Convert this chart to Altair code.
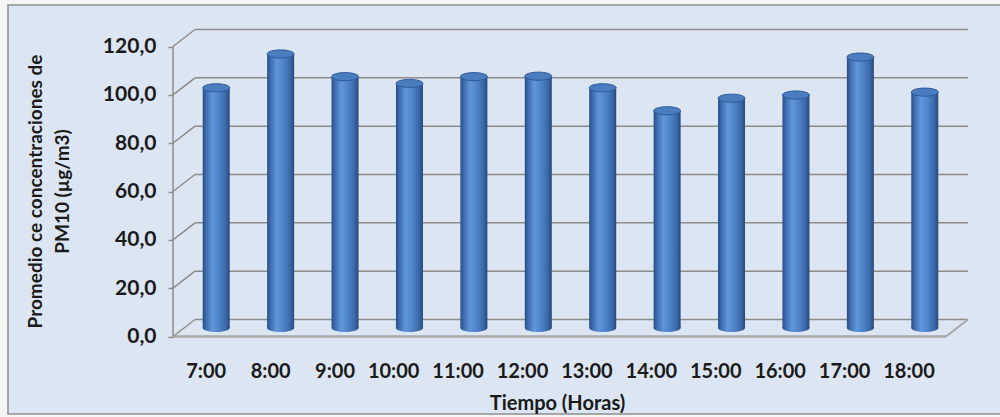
import altair as alt
import pandas as pd

# Hourly mean PM10 concentration
horas = ["7:00", "8:00", "9:00", "10:00", "11:00", "12:00",
         "13:00", "14:00", "15:00", "16:00", "17:00", "18:00"]
pm10 = [99.4, 113.4, 104.0, 101.2, 104.0, 104.2,
        99.4, 89.9, 95.1, 96.4, 112.1, 97.6]
y_ticks = [0, 20, 40, 60, 80, 100, 120]

W, H = 773, 290          # mid-depth plane of the 3D box
DX, DY = 11, 8.5         # half of the depth offset (x right, y up)
BAR_W = 27
FONT = "Lato"
GRID = "#8c8c8c"
TEXT = "#1a1a1a"

bars_df = pd.DataFrame({"hora": horas, "pm10": pm10})
grid_df = pd.DataFrame({"v": y_ticks})
one = pd.DataFrame({"k": [0]})

x_scale = alt.Scale(domain=horas, paddingInner=0, paddingOuter=0)
y_scale = alt.Scale(domain=[0, 120], nice=False, zero=True)

body = alt.Gradient(
    gradient="linear", x1=0, x2=1, y1=0, y2=0,
    stops=[
        alt.GradientStop(color="#284c82", offset=0),
        alt.GradientStop(color="#3c6cae", offset=0.12),
        alt.GradientStop(color="#6296da", offset=0.36),
        alt.GradientStop(color="#4d82c8", offset=0.62),
        alt.GradientStop(color="#3a67a6", offset=0.86),
        alt.GradientStop(color="#26487c", offset=1),
    ],
)
ELLIPSE = "M -1 0 A 1 0.3 0 1 1 1 0 A 1 0.3 0 1 1 -1 0 Z"

# chart frame
frame = alt.Chart(one).mark_rect(
    fill="#dce6f2", stroke="#8f8f8f", strokeWidth=1.5
).encode(
    x=alt.value(-176), x2=alt.value(840),
    y=alt.value(-33), y2=alt.value(376),
)

# back wall gridlines
back_grid = alt.Chart(grid_df).mark_rule(
    color=GRID, strokeWidth=1.5, xOffset=DX, x2Offset=DX, yOffset=-DY
).encode(
    x=alt.value(0), x2=alt.value(W),
    y=alt.Y("v:Q", scale=y_scale, axis=alt.Axis(
        title=["Promedio ce concentraciones de", "PM10 (µg/m3)"],
        values=y_ticks, offset=DX, domain=False, zindex=1,
        ticks=True, tickSize=5, tickColor=GRID, tickWidth=1.5,
        tickOffset=DY,
        labelExpr="replace(format(datum.value, '.1f'), '.', ',')",
        labelFont=FONT, labelFontSize=21, labelFontWeight="bold",
        labelColor=TEXT, labelPadding=12,
        titleFont=FONT, titleFontSize=19, titleFontWeight="bold",
        titleColor=TEXT, titleLineHeight=27, titleBaseline="middle",
        titleAlign="center", titleX=-138, titleY=153,
        grid=False,
    )),
)

# side wall connectors from the front axis to the back wall
side = alt.Chart(grid_df).mark_rule(
    color=GRID, strokeWidth=1.5, yOffset=DY, y2Offset=-DY
).encode(
    x=alt.value(-DX), x2=alt.value(DX),
    y=alt.Y("v:Q", scale=y_scale), y2="v:Q",
)

# front vertical axis line
front_axis = alt.Chart(one).mark_rule(
    color=GRID, strokeWidth=1.5, yOffset=DY, y2Offset=DY
).encode(
    x=alt.value(-DX), y=alt.datum(120, scale=y_scale), y2=alt.datum(0),
)

# floor: front edge and right edge
floor_front = alt.Chart(one).mark_rule(
    color="#a8a8a8", strokeWidth=2.5, yOffset=DY
).encode(
    x=alt.value(-DX), x2=alt.value(W - DX), y=alt.datum(0, scale=y_scale),
)
floor_side = alt.Chart(one).mark_rule(
    color="#a8a8a8", strokeWidth=2, yOffset=DY, y2Offset=-DY
).encode(
    x=alt.value(W - DX), x2=alt.value(W + DX),
    y=alt.datum(0, scale=y_scale), y2=alt.datum(0),
)

x_enc = alt.X("hora:N", sort=horas, scale=x_scale, axis=alt.Axis(
    title="Tiempo (Horas)", domain=False, ticks=False, labelAngle=0,
    labelPadding=43, labelOffset=10, zindex=1,
    labelFont=FONT, labelFontSize=20, labelFontWeight="bold",
    labelColor=TEXT,
    titleFont=FONT, titleFontSize=20, titleFontWeight="bold",
    titleColor=TEXT, titleX=373, titleY=75, titleBaseline="middle",
))

# cylinder bottoms, bodies and top caps
bottoms = alt.Chart(bars_df).mark_point(
    shape=ELLIPSE, size=BAR_W ** 2, filled=True, fill=body, opacity=1,
    strokeWidth=0,
).encode(x=alt.X("hora:N", sort=horas, scale=x_scale),
         y=alt.datum(0, scale=y_scale))

bodies = alt.Chart(bars_df).mark_bar(width=BAR_W, fill=body).encode(
    x=x_enc,
    y=alt.Y("pm10:Q", scale=y_scale),
)

caps = alt.Chart(bars_df).mark_point(
    shape=ELLIPSE, size=BAR_W ** 2, filled=True, fill="#4a7cc0",
    stroke="#2f5a96", strokeWidth=1, opacity=1,
).encode(x=alt.X("hora:N", sort=horas, scale=x_scale),
         y=alt.Y("pm10:Q", scale=y_scale))

chart = alt.layer(
    frame, back_grid, side, front_axis, floor_front, floor_side,
    bottoms, bodies, caps,
).properties(
    width=W, height=H,
    padding={"left": 184, "top": 38, "right": 43, "bottom": 89},
    autosize="none", background="#f5f5f5",
).configure_view(stroke=None)

chart.save("out.html", embed_options={"renderer": "svg", "actions": False})
